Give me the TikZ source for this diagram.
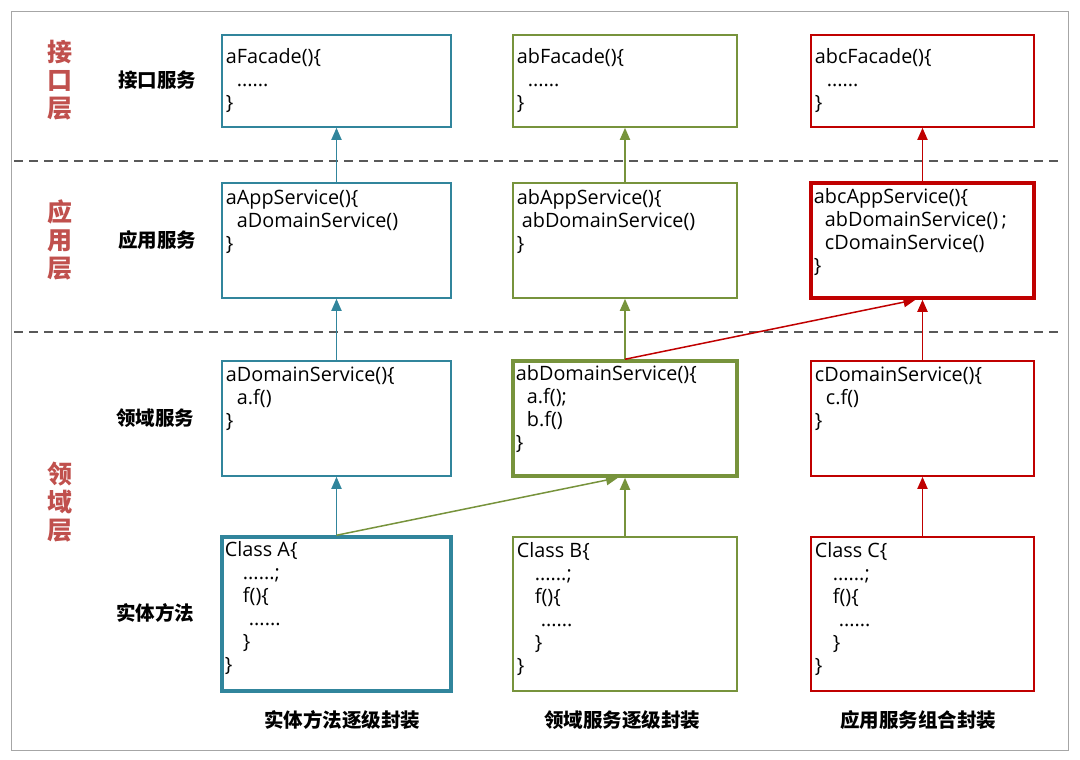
\documentclass[tikz,border=0pt]{standalone}
\usepackage{fontspec}
\setmainfont{Open Sans}
\newfontfamily\cjk{Noto Sans CJK SC}
\usetikzlibrary{arrows.meta}
\definecolor{cteal}{HTML}{31859C}
\definecolor{cgreen}{HTML}{77933C}
\definecolor{cred}{HTML}{C00000}
\definecolor{clabel}{HTML}{C0504D}
\definecolor{cframe}{HTML}{A6A6A6}
\definecolor{cdash}{HTML}{595959}
\tikzset{
  box/.style={draw, inner sep=0pt, line width=1.6pt},
  thickbox/.style={box, line width=3.5pt},
  colA/.style={minimum width=229pt},
  colB/.style={minimum width=224pt},
  colC/.style={minimum width=223pt},
  rowF/.style={minimum height=92pt},
  rowS/.style={minimum height=115pt},
  rowE/.style={minimum height=154pt},
  code/.style={anchor=base west, inner sep=0pt, font=\fontsize{19.8}{23}\selectfont},
  up/.style={line width=1.8pt, -{Triangle[length=12pt,width=10pt]}},
  layer/.style={font=\cjk\bfseries\fontsize{25}{28}\selectfont, text=clabel, align=center, inner sep=0pt},
  svc/.style={font=\cjk\bfseries\fontsize{19.5}{23}\selectfont, inner sep=0pt},
  sep/.style={draw=cdash, line width=1.5pt, dash pattern=on 9pt off 6pt},
}
\newcommand{\ind}[1]{\hspace*{#1pt}}
\begin{document}
\begin{tikzpicture}[x=1pt, y=-1pt]
\useasboundingbox (0,0) rectangle (1080,760);
\draw[cframe, line width=1pt] (11,12) rectangle (1068,750);
% separators
\coordinate (s1l) at (14,161); \coordinate (s1r) at (1058,161);
\coordinate (s2l) at (14,332); \coordinate (s2r) at (1058,332);
\draw[sep] (s1l) -- (s1r);
\draw[sep] (s2l) -- (s2r);
% layer labels
\node[layer] (L1) at (60,80) {接\\口\\层};
\node[layer] (L2) at (60,240) {应\\用\\层};
\node[layer] (L3) at (60,502) {领\\域\\层};
\node[svc] (S1) at (157,80) {接口服务};
\node[svc] (S2) at (157,240) {应用服务};
\node[svc] (S3) at (155,418) {领域服务};
\node[svc] (S4) at (155,613) {实体方法};
% column A
\node[box, cteal, colA, rowF] (fa) at (336.5,81) {};
\node[box, cteal, colA, rowS] (aa) at (336.5,240.5) {};
\node[box, cteal, colA, rowS] (ad) at (336.5,418.5) {};
\node[thickbox, cteal, colA, rowE] (ca) at (336.5,614) {};
% column B
\node[box, cgreen, colB, rowF] (fb) at (625,81) {};
\node[box, cgreen, colB, rowS] (ab) at (625,240.5) {};
\node[thickbox, cgreen, colB, rowS] (bd) at (625,418.5) {};
\node[box, cgreen, colB, rowE] (cb) at (625,614) {};
% column C
\node[box, cred, colC, rowF] (fc) at (922.5,81) {};
\node[thickbox, cred, colC, rowS] (ac) at (922.5,240.5) {};
\node[box, cred, colC, rowS] (cd) at (922.5,418.5) {};
\node[box, cred, colC, rowE] (cc) at (922.5,614) {};
% texts
\node[code] (tfa) at ([shift={(4.5pt,-29pt)}]fa.north west) {\begin{tabular}[t]{@{}l@{}}aFacade()\{\\ \ind{11}......\\ \}\end{tabular}};
\node[code] (taa) at ([shift={(4.5pt,-22pt)}]aa.north west) {\begin{tabular}[t]{@{}l@{}}aAppService()\{\\ \ind{11}aDomainService()\\ \}\end{tabular}};
\node[code] (tad) at ([shift={(4.5pt,-21pt)}]ad.north west) {\begin{tabular}[t]{@{}l@{}}aDomainService()\{\\ \ind{11}a.f()\\ \}\end{tabular}};
\node[code] (tca) at ([shift={(4.5pt,-21pt)}]ca.north west) {\begin{tabular}[t]{@{}l@{}}Class A\{\\ \ind{18}......;\\ \ind{18}f()\{\\ \ind{24}......\\ \ind{18}\}\\ \}\end{tabular}};
\node[code] (tfb) at ([shift={(4.5pt,-29pt)}]fb.north west) {\begin{tabular}[t]{@{}l@{}}abFacade()\{\\ \ind{11}......\\ \}\end{tabular}};
\node[code] (tab) at ([shift={(4.5pt,-22pt)}]ab.north west) {\begin{tabular}[t]{@{}l@{}}abAppService()\{\\ \ind{5}abDomainService()\\ \}\end{tabular}};
\node[code] (tbd) at ([shift={(4.5pt,-21pt)}]bd.north west) {\begin{tabular}[t]{@{}l@{}}abDomainService()\{\\ \ind{11}a.f();\\ \ind{11}b.f()\\ \}\end{tabular}};
\node[code] (tcb) at ([shift={(4.5pt,-21pt)}]cb.north west) {\begin{tabular}[t]{@{}l@{}}Class B\{\\ \ind{18}......;\\ \ind{18}f()\{\\ \ind{24}......\\ \ind{18}\}\\ \}\end{tabular}};
\node[code] (tfc) at ([shift={(4.5pt,-29pt)}]fc.north west) {\begin{tabular}[t]{@{}l@{}}abcFacade()\{\\ \ind{12}......\\ \}\end{tabular}};
\node[code] (tac) at ([shift={(4.5pt,-22pt)}]ac.north west) {\begin{tabular}[t]{@{}l@{}}abcAppService()\{\\ \ind{11}abDomainService()\,;\\ \ind{11}cDomainService()\\ \}\end{tabular}};
\node[code] (tcd) at ([shift={(4.5pt,-21pt)}]cd.north west) {\begin{tabular}[t]{@{}l@{}}cDomainService()\{\\ \ind{11}c.f()\\ \}\end{tabular}};
\node[code] (tcc) at ([shift={(4.5pt,-21pt)}]cc.north west) {\begin{tabular}[t]{@{}l@{}}Class C\{\\ \ind{18}......;\\ \ind{18}f()\{\\ \ind{24}......\\ \ind{18}\}\\ \}\end{tabular}};
% arrows
\draw[up, cteal] (aa.north) -- (fa.south);
\draw[up, cteal] (ad.north) -- (aa.south);
\draw[up, cteal] (ca.north) -- (ad.south);
\draw[up, cgreen] (ab.north) -- (fb.south);
\draw[up, cgreen] (bd.north) -- (ab.south);
\draw[up, cgreen] (cb.north) -- (bd.south);
\draw[up, cred] (ac.north) -- (fc.south);
\draw[up, cred] (cd.north) -- (ac.south);
\draw[up, cred] (cc.north) -- (cd.south);
\draw[up, cgreen, line width=1.5pt] (ca.north) -- ([xshift=-7pt]bd.south);
\draw[up, cred, line width=1.5pt] (bd.north) -- ([xshift=-7pt]ac.south);
% bottom labels
\node[svc] (B1) at (342,720) {实体方法逐级封装};
\node[svc] (B2) at (622,720) {领域服务逐级封装};
\node[svc] (B3) at (918,720) {应用服务组合封装};
\end{tikzpicture}
\end{document}
